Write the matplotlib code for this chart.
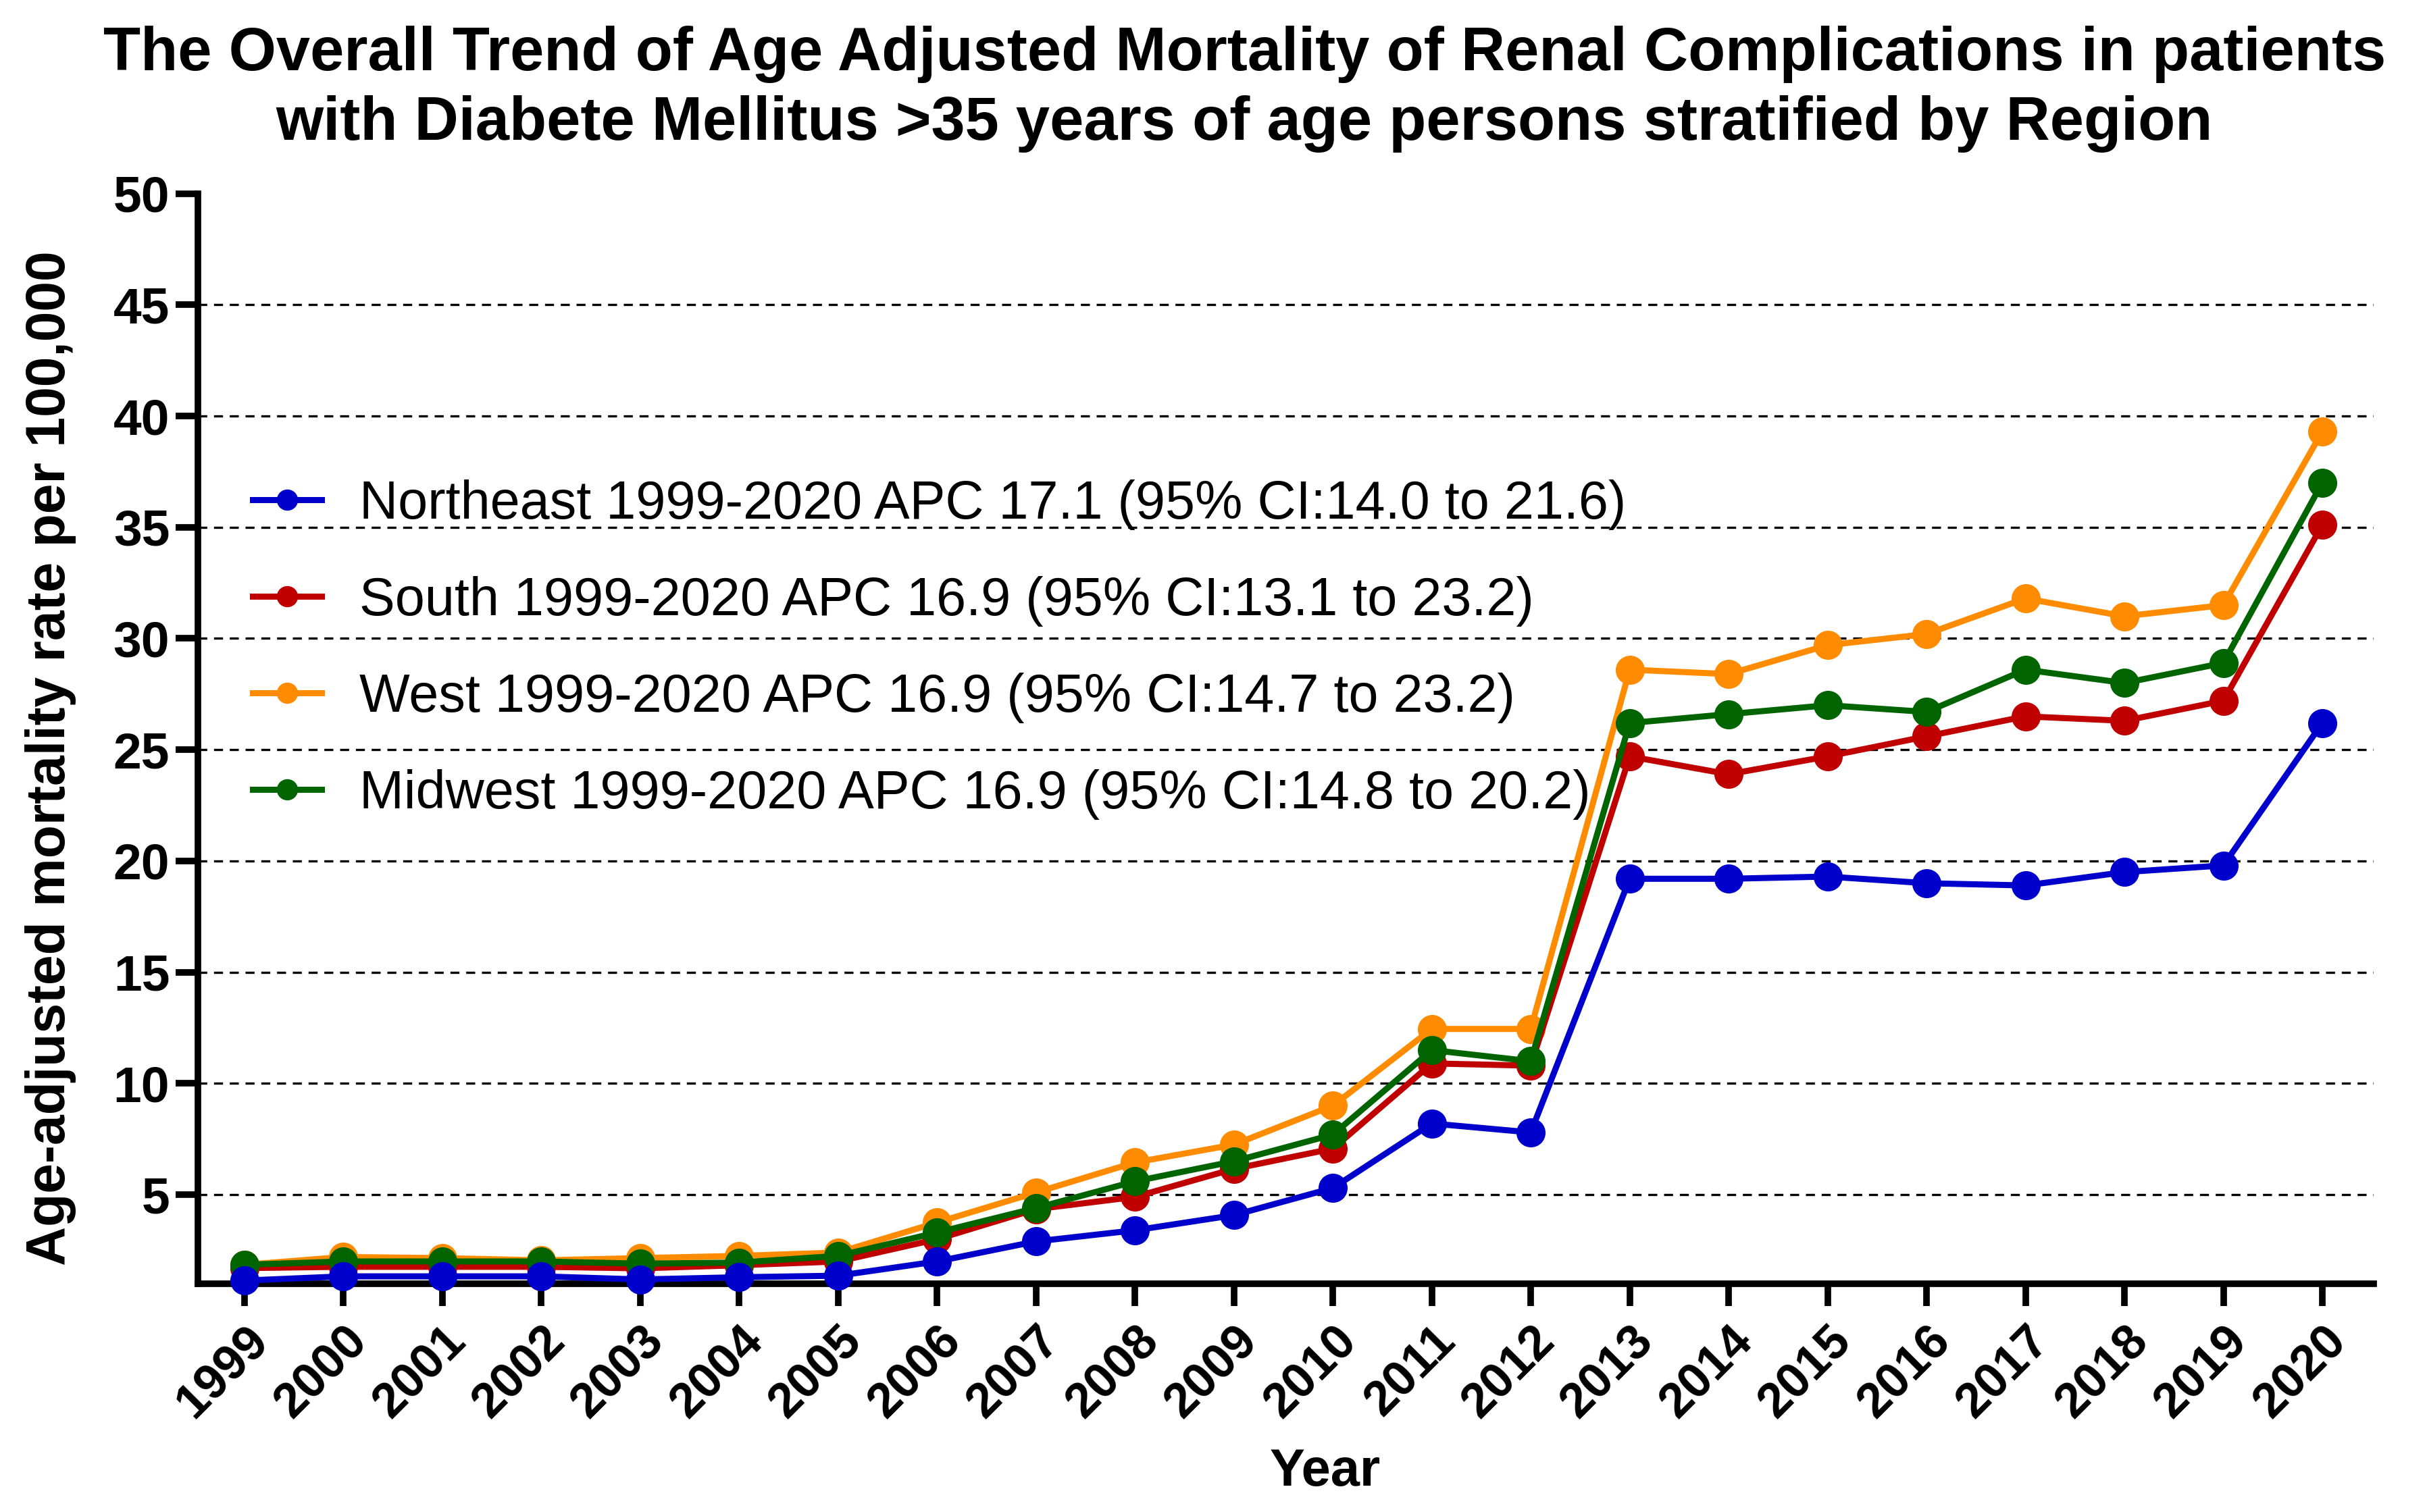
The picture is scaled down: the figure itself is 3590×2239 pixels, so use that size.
import matplotlib
matplotlib.use("Agg")
import matplotlib.pyplot as plt

years = list(range(1999, 2021))
northeast = [1.14, 1.33, 1.33, 1.33, 1.19, 1.29, 1.36, 2.0, 2.9, 3.4, 4.08, 5.3, 8.2, 7.8,
             19.2, 19.2, 19.3, 19.0, 18.9, 19.5, 19.8, 26.2]
south = [1.7, 1.76, 1.76, 1.76, 1.69, 1.83, 2.0, 3.0, 4.35, 4.9, 6.16, 7.07, 10.9, 10.8,
         24.7, 23.9, 24.7, 25.6, 26.5, 26.3, 27.2, 35.1]
west = [1.85, 2.2, 2.15, 2.05, 2.15, 2.25, 2.4, 3.75, 5.1, 6.45, 7.25, 9.0, 12.45, 12.45,
        28.6, 28.4, 29.7, 30.2, 31.8, 31.0, 31.5, 39.3]
midwest = [1.85, 2.0, 2.0, 2.0, 1.9, 1.95, 2.25, 3.3, 4.4, 5.6, 6.5, 7.7, 11.5, 11.0,
           26.2, 26.6, 27.0, 26.7, 28.6, 28.0, 28.9, 37.0]

labels = ["Northeast 1999-2020 APC 17.1 (95% CI:14.0 to 21.6)",
          "South 1999-2020 APC 16.9 (95% CI:13.1 to 23.2)",
          "West 1999-2020 APC 16.9 (95% CI:14.7 to 23.2)",
          "Midwest 1999-2020 APC 16.9 (95% CI:14.8 to 20.2)"]
colors = ["#0000CC", "#C00000", "#FF8C00", "#006400"]
series = [northeast, south, west, midwest]
zorders = [6, 4, 3, 5]

plt.rcParams['font.family'] = ['Liberation Sans', 'DejaVu Sans']

fig = plt.figure(figsize=(35.91, 22.39), dpi=100)
ax = fig.add_axes([0.0816, 0.151, 0.897, 0.721])

handles = []
for s, c, lab, z in zip(series, colors, labels, zorders):
    h, = ax.plot(years, s, color=c, lw=6.5, marker='o', markersize=30, label=lab, zorder=z,
                 clip_on=False)
    handles.append(h)

ax.set_xlim(1998.53, 2020.52)
ax.set_ylim(1, 50)
ax.set_yticks(list(range(5, 51, 5)))
ax.set_xticks(years)
ax.set_xticklabels([str(y) for y in years], rotation=45, ha='right', va='top',
                   rotation_mode='anchor', fontsize=52, fontweight='bold')
for lab in ax.get_yticklabels():
    lab.set_fontsize(54)
    lab.set_fontweight('bold')

for g in range(5, 50, 5):
    ax.axhline(g, color='black', lw=2.4, ls=(0, (4, 3)), zorder=1)

for sp in ['top', 'right']:
    ax.spines[sp].set_visible(False)
for sp in ['left', 'bottom']:
    ax.spines[sp].set_linewidth(7)
ax.tick_params(axis='both', width=7, length=24, direction='out', pad=6)
ax.tick_params(axis='x', pad=12)

ax.set_xlabel("Year", fontsize=56, fontweight='bold')
ax.xaxis.set_label_coords(0.518, -0.15)
ax.set_ylabel("Age-adjusted mortality rate per 100,000", fontsize=58, fontweight='bold')
ax.yaxis.set_label_coords(-0.056, 0.482)

fig.suptitle("The Overall Trend of Age Adjusted Mortality of Renal Complications in patients\n"
             "with Diabete Mellitus >35 years of age persons stratified by Region",
             x=0.513, y=0.983, fontsize=65, fontweight='bold', linespacing=1.27)

ax.legend(handles=handles, loc='upper left', bbox_to_anchor=(0.025, 0.738), frameon=False,
          fontsize=57, handlelength=1.3, handletextpad=0.7, labelspacing=0.86,
          markerscale=0.72, borderpad=0, borderaxespad=0)

fig.savefig("out.png", dpi=100)
